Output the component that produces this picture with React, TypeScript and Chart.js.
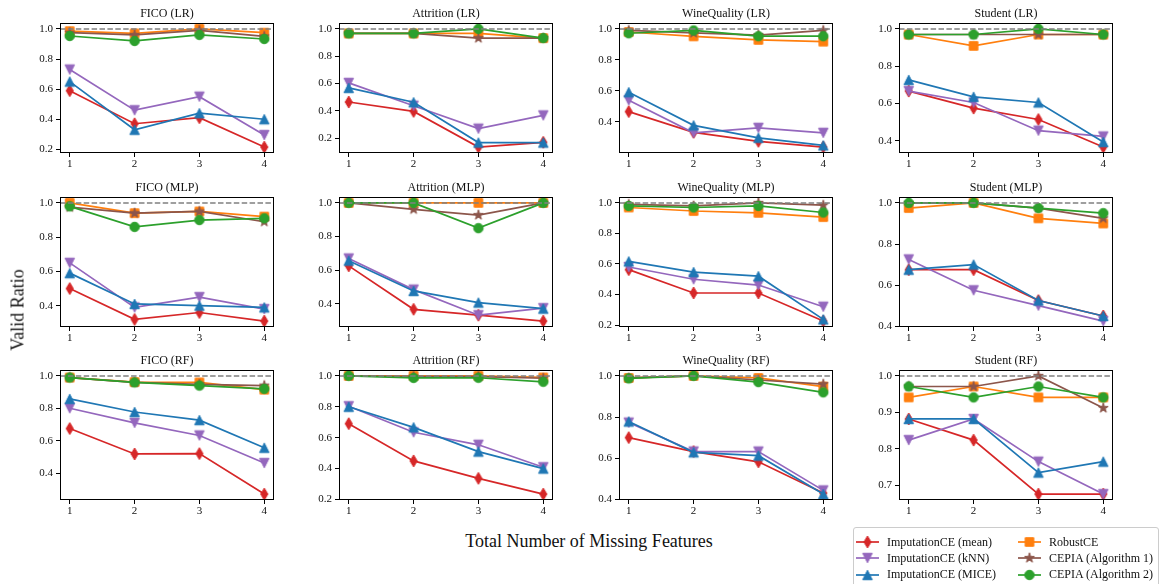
import React, { useEffect, useRef } from "react";
import { Chart, registerables } from "chart.js";

Chart.register(...registerables);

// ---------------- data ----------------
const MISSING = [1, 2, 3, 4];
const METHODS = [
  "ImputationCE (mean)",
  "ImputationCE (kNN)",
  "ImputationCE (MICE)",
  "RobustCE",
  "CEPIA (Algorithm 1)",
  "CEPIA (Algorithm 2)",
];
const REF_LINE = 1.0;

// rows follow METHODS order
const FICO_LR = [
  [0.59, 0.37, 0.41, 0.215],
  [0.73, 0.46, 0.55, 0.295],
  [0.65, 0.33, 0.44, 0.4],
  [0.985, 0.97, 1.0, 0.975],
  [0.975, 0.96, 0.99, 0.95],
  [0.953, 0.92, 0.96, 0.933],
];
const ATTRITION_LR = [
  [0.465, 0.396, 0.135, 0.17],
  [0.605, 0.438, 0.27, 0.367],
  [0.568, 0.463, 0.168, 0.168],
  [0.967, 0.967, 0.967, 0.933],
  [0.967, 0.967, 0.933, 0.933],
  [0.967, 0.967, 1.0, 0.933],
];
const WINE_LR = [
  [0.467, 0.333, 0.275, 0.238],
  [0.54, 0.33, 0.362, 0.33],
  [0.592, 0.378, 0.298, 0.249],
  [0.98, 0.952, 0.929, 0.918],
  [0.99, 0.974, 0.96, 0.99],
  [0.972, 0.99, 0.953, 0.953],
];
const STUDENT_LR = [
  [0.667, 0.576, 0.515, 0.367],
  [0.667, 0.606, 0.455, 0.424],
  [0.727, 0.636, 0.606, 0.394],
  [0.97, 0.909, 0.97, 0.97],
  [0.97, 0.97, 0.97, 0.97],
  [0.97, 0.97, 1.0, 0.97],
];
const FICO_MLP = [
  [0.5, 0.32, 0.36, 0.31],
  [0.65, 0.39, 0.45, 0.38],
  [0.59, 0.41, 0.4, 0.39],
  [1.0, 0.94, 0.95, 0.92],
  [0.975, 0.94, 0.95, 0.89],
  [0.98, 0.86, 0.9, 0.91],
];
const ATTRITION_MLP = [
  [0.626, 0.368, 0.333, 0.298],
  [0.67, 0.485, 0.333, 0.375],
  [0.657, 0.477, 0.408, 0.372],
  [1.0, 1.0, 1.0, 1.0],
  [1.0, 0.962, 0.928, 1.0],
  [1.0, 1.0, 0.85, 1.0],
];
const WINE_MLP = [
  [0.563, 0.41, 0.41, 0.226],
  [0.58, 0.5, 0.462, 0.32],
  [0.617, 0.547, 0.52, 0.237],
  [0.97, 0.947, 0.935, 0.907],
  [0.99, 0.98, 1.0, 0.985],
  [0.98, 0.97, 0.98, 0.937],
];
const STUDENT_MLP = [
  [0.675, 0.675, 0.525, 0.45],
  [0.725, 0.575, 0.5, 0.425],
  [0.675, 0.7, 0.525, 0.45],
  [0.975, 1.0, 0.925, 0.9],
  [1.0, 1.0, 0.975, 0.925],
  [1.0, 1.0, 0.975, 0.95],
];
const FICO_RF = [
  [0.675, 0.518, 0.52, 0.27],
  [0.8, 0.71, 0.632, 0.462],
  [0.858, 0.777, 0.727, 0.556],
  [0.99, 0.962, 0.96, 0.915],
  [0.99, 0.96, 0.948, 0.94],
  [0.99, 0.96, 0.94, 0.92],
];
const ATTRITION_RF = [
  [0.691, 0.45, 0.337, 0.235],
  [0.804, 0.635, 0.554, 0.409],
  [0.8, 0.667, 0.51, 0.4],
  [1.0, 1.0, 1.0, 0.99],
  [1.0, 0.996, 0.995, 0.985],
  [1.0, 0.987, 0.988, 0.962],
];
const WINE_RF = [
  [0.7, 0.632, 0.582, 0.43],
  [0.773, 0.632, 0.632, 0.443],
  [0.778, 0.628, 0.612, 0.425],
  [0.99, 1.0, 0.99, 0.948],
  [0.99, 1.0, 0.98, 0.96],
  [0.988, 1.0, 0.97, 0.92],
];
const STUDENT_RF = [
  [0.882, 0.824, 0.676, 0.676],
  [0.824, 0.882, 0.765, 0.676],
  [0.882, 0.882, 0.735, 0.765],
  [0.941, 0.971, 0.941, 0.941],
  [0.971, 0.971, 1.0, 0.912],
  [0.971, 0.941, 0.971, 0.941],
];

const TICKS_02_10 = [0.2, 0.4, 0.6, 0.8, 1.0];
const TICKS_04_10 = [0.4, 0.6, 0.8, 1.0];
const TICKS_07_10 = [0.7, 0.8, 0.9, 1.0];

const PANELS = [
  { title: "FICO (LR)", values: FICO_LR, yticks: TICKS_02_10 },
  { title: "Attrition (LR)", values: ATTRITION_LR, yticks: TICKS_02_10 },
  { title: "WineQuality (LR)", values: WINE_LR, yticks: TICKS_04_10 },
  { title: "Student (LR)", values: STUDENT_LR, yticks: TICKS_04_10 },
  { title: "FICO (MLP)", values: FICO_MLP, yticks: TICKS_04_10 },
  { title: "Attrition (MLP)", values: ATTRITION_MLP, yticks: TICKS_04_10 },
  { title: "WineQuality (MLP)", values: WINE_MLP, yticks: TICKS_02_10 },
  { title: "Student (MLP)", values: STUDENT_MLP, yticks: TICKS_04_10 },
  { title: "FICO (RF)", values: FICO_RF, yticks: TICKS_04_10 },
  { title: "Attrition (RF)", values: ATTRITION_RF, yticks: TICKS_02_10 },
  { title: "WineQuality (RF)", values: WINE_RF, yticks: TICKS_04_10 },
  { title: "Student (RF)", values: STUDENT_RF, yticks: TICKS_07_10 },
];

// ---------------- style / layout ----------------
const COLORS = ["#d62728", "#9467bd", "#1f77b4", "#ff7f0e", "#8c564b", "#2ca02c"];
const MARKERS = ["thinDiamond", "triDown", "triUp", "square", "star", "circle"];
const FONT = "'Liberation Serif', 'Times New Roman', serif";
const MS = 9.5;
const LW = 1.7;

const PLOT_LEFTS = [60, 339, 619, 899];
const PLOT_TOPS = [23, 197, 370];
const PLOT_W = 214;
const PLOT_H = 130;
const AX_W = 50;
const TOP_PAD = 22;
const X_H = 22;
const RIGHT_PAD = 6;

function markerPath(ctx: CanvasRenderingContext2D, shape: string, ms: number) {
  const h = ms / 2;
  ctx.beginPath();
  if (shape === "circle") {
    ctx.arc(0, 0, h, 0, Math.PI * 2);
  } else if (shape === "square") {
    ctx.rect(-h * 0.9, -h * 0.9, h * 1.8, h * 1.8);
  } else if (shape === "triUp") {
    ctx.moveTo(0, -h);
    ctx.lineTo(h, h);
    ctx.lineTo(-h, h);
    ctx.closePath();
  } else if (shape === "triDown") {
    ctx.moveTo(0, h);
    ctx.lineTo(h, -h);
    ctx.lineTo(-h, -h);
    ctx.closePath();
  } else if (shape === "thinDiamond") {
    const dy = h * 1.25;
    const dx = h * 0.75;
    ctx.moveTo(0, -dy);
    ctx.lineTo(dx, 0);
    ctx.lineTo(0, dy);
    ctx.lineTo(-dx, 0);
    ctx.closePath();
  } else if (shape === "star") {
    const R = h * 1.1;
    const r = R * 0.382;
    for (let k = 0; k < 10; k++) {
      const rad = k % 2 === 0 ? R : r;
      const a = -Math.PI / 2 + (k * Math.PI) / 5;
      const px = Math.cos(a) * rad;
      const py = Math.sin(a) * rad;
      if (k === 0) ctx.moveTo(px, py);
      else ctx.lineTo(px, py);
    }
    ctx.closePath();
  }
}

function makeMarker(shape: string, color: string, ms: number): HTMLCanvasElement {
  const size = Math.ceil(ms * 1.6 + 4);
  const c = document.createElement("canvas");
  c.width = size;
  c.height = size;
  const ctx = c.getContext("2d")!;
  ctx.translate(size / 2, size / 2);
  markerPath(ctx, shape, ms);
  ctx.fillStyle = color;
  ctx.fill();
  ctx.lineWidth = 1;
  ctx.strokeStyle = color;
  ctx.stroke();
  return c;
}

const panelPlugin = {
  id: "panelDecor",
  afterDatasetsDraw(chart: any) {
    const { ctx, chartArea, scales } = chart;
    const y = scales.y.getPixelForValue(REF_LINE);
    ctx.save();
    ctx.strokeStyle = "#808080";
    ctx.lineWidth = 1.5;
    ctx.setLineDash([5.5, 2.4]);
    ctx.beginPath();
    ctx.moveTo(chartArea.left, y);
    ctx.lineTo(chartArea.right, y);
    ctx.stroke();
    ctx.restore();
  },
  afterDraw(chart: any) {
    const { ctx, chartArea } = chart;
    ctx.save();
    ctx.strokeStyle = "#000";
    ctx.lineWidth = 1;
    ctx.strokeRect(
      Math.round(chartArea.left) + 0.5,
      Math.round(chartArea.top) + 0.5,
      Math.round(chartArea.right - chartArea.left) - 1,
      Math.round(chartArea.bottom - chartArea.top) - 1
    );
    ctx.fillStyle = "#111";
    ctx.font = `12px ${FONT}`;
    ctx.textAlign = "center";
    ctx.textBaseline = "alphabetic";
    ctx.fillText(chart.options.plugins.panelDecor.title, (chartArea.left + chartArea.right) / 2, chartArea.top - 6);
    ctx.restore();
  },
};

export default function App() {
  const refs = useRef<(HTMLCanvasElement | null)[]>([]);
  const legendRefs = useRef<(HTMLCanvasElement | null)[]>([]);

  useEffect(() => {
    document.body.style.margin = "0";
    const markers = MARKERS.map((m, i) => makeMarker(m, COLORS[i], MS));
    const xSpan = MISSING[MISSING.length - 1] - MISSING[0];
    const charts = PANELS.map((p, idx) => {
      const canvas = refs.current[idx]!;
      const all = p.values.flat();
      const dmin = Math.min(...all);
      const dmax = Math.max(...all, REF_LINE);
      const m = (dmax - dmin) * 0.05;
      const yticks = p.yticks;
      return new Chart(canvas, {
        type: "line",
        data: {
          datasets: p.values.map((vals, i) => ({
            label: METHODS[i],
            data: vals.map((v, j) => ({ x: MISSING[j], y: v })),
            borderColor: COLORS[i],
            backgroundColor: COLORS[i],
            borderWidth: LW,
            pointStyle: markers[i] as any,
            pointRadius: 4,
            tension: 0,
            order: METHODS.length - i,
          })),
        },
        options: {
          responsive: false,
          animation: false,
          events: [],
          layout: { padding: { top: TOP_PAD, right: RIGHT_PAD, left: 0, bottom: 0 } },
          plugins: {
            legend: { display: false },
            tooltip: { enabled: false },
            title: { display: false },
            panelDecor: { title: p.title },
          } as any,
          scales: {
            x: {
              type: "linear",
              min: MISSING[0] - 0.05 * xSpan,
              max: MISSING[MISSING.length - 1] + 0.05 * xSpan,
              afterBuildTicks: (s: any) => {
                s.ticks = MISSING.map((v) => ({ value: v }));
              },
              afterFit: (s: any) => {
                s.height = X_H;
              },
              ticks: {
                callback: (v: any) => String(v),
                font: { family: FONT, size: 11 },
                color: "#111",
                padding: 1,
                maxRotation: 0,
                autoSkip: false,
              },
              grid: { display: true, drawOnChartArea: false, drawTicks: true, tickLength: 4, color: "#000" },
              border: { display: false },
            },
            y: {
              type: "linear",
              min: dmin - m,
              max: dmax + m,
              afterBuildTicks: (s: any) => {
                s.ticks = yticks.map((v) => ({ value: v }));
              },
              afterFit: (s: any) => {
                s.width = AX_W;
              },
              ticks: {
                callback: (v: any) => Number(v).toFixed(1),
                font: { family: FONT, size: 11 },
                color: "#111",
                padding: 3,
                autoSkip: false,
              },
              grid: { display: true, drawOnChartArea: false, drawTicks: true, tickLength: 4, color: "#000" },
              border: { display: false },
            },
          },
        },
        plugins: [panelPlugin as any],
      });
    });

    legendRefs.current.forEach((c, i) => {
      if (!c) return;
      const ctx = c.getContext("2d")!;
      ctx.clearRect(0, 0, c.width, c.height);
      ctx.strokeStyle = COLORS[i];
      ctx.lineWidth = LW;
      ctx.beginPath();
      ctx.moveTo(0, c.height / 2);
      ctx.lineTo(c.width, c.height / 2);
      ctx.stroke();
      ctx.drawImage(markers[i], c.width / 2 - markers[i].width / 2, c.height / 2 - markers[i].height / 2);
    });

    return () => charts.forEach((c) => c.destroy());
  }, []);

  const legendCols = [
    [0, 1, 2],
    [3, 4, 5],
  ];

  return (
    <div style={{ position: "absolute", left: 0, top: 0, width: 1161, height: 584, overflow: "hidden", background: "#fff", fontFamily: FONT }}>
      {PANELS.map((p, idx) => {
        const r = Math.floor(idx / 4);
        const c = idx % 4;
        return (
          <canvas
            key={p.title}
            ref={(el) => {
              refs.current[idx] = el;
            }}
            width={AX_W + PLOT_W + RIGHT_PAD}
            height={TOP_PAD + PLOT_H + X_H}
            style={{ position: "absolute", left: PLOT_LEFTS[c] - AX_W, top: PLOT_TOPS[r] - TOP_PAD }}
          />
        );
      })}
      <div style={{ position: "absolute", left: 589, top: 541, transform: "translate(-50%, -50%)", fontSize: 18, whiteSpace: "nowrap", color: "#111" }}>
        Total Number of Missing Features
      </div>
      <div style={{ position: "absolute", left: 18, top: 310, transform: "translate(-50%, -50%) rotate(-90deg)", fontSize: 18, whiteSpace: "nowrap", color: "#111" }}>
        Valid Ratio
      </div>
      <div style={{ position: "absolute", left: 853, top: 527, width: 304, height: 60, border: "1px solid #cccccc", borderRadius: 3, background: "#fff" }}>
        {legendCols.map((col, ci) =>
          col.map((mi, ri) => (
            <div key={mi} style={{ position: "absolute", left: ci === 0 ? 2 : 164, top: 6 + ri * 16.3, height: 16, display: "flex", alignItems: "center", whiteSpace: "nowrap", fontSize: 12, color: "#111" }}>
              <canvas
                ref={(el) => {
                  legendRefs.current[mi] = el;
                }}
                width={23}
                height={16}
                style={{ marginRight: 8 }}
              />
              <span>{METHODS[mi]}</span>
            </div>
          ))
        )}
      </div>
    </div>
  );
}
